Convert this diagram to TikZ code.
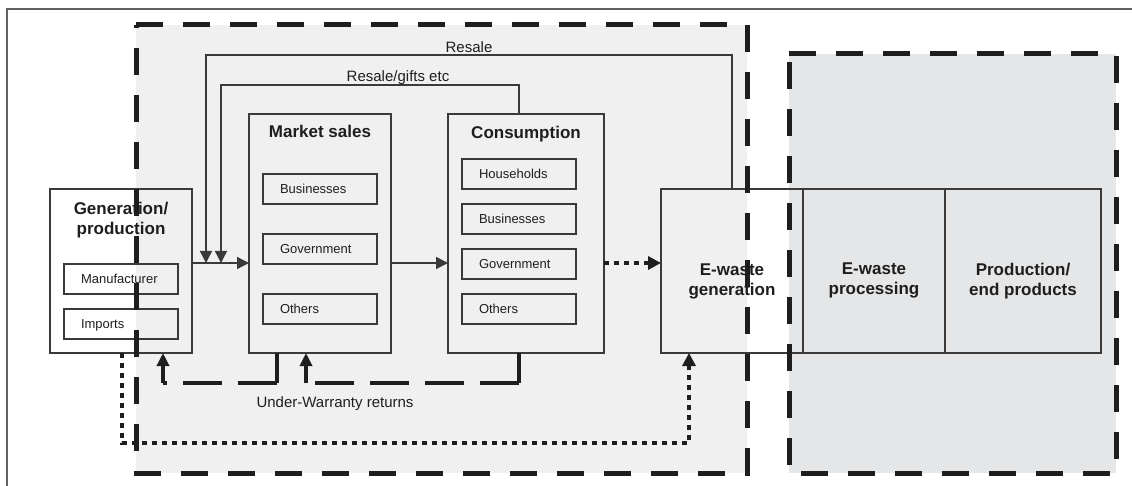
\documentclass[tikz,border=0pt]{standalone}
\usepackage{fontspec}
\setmainfont{Liberation Sans}
\usetikzlibrary{arrows.meta}
\definecolor{lgray}{HTML}{F0F0F0}
\definecolor{rgray}{HTML}{E5E6E7}
\definecolor{ink}{HTML}{1E1E1E}
\definecolor{edge}{HTML}{3A3A3A}
\begin{document}
\begin{tikzpicture}[x=1pt,y=-1pt,
  box/.style={draw=edge, line width=1.4pt, inner sep=0pt, outer sep=0pt, anchor=north west},
  bigbox/.style={box, minimum height=164pt},
  colbox/.style={box, minimum height=239pt},
  sub/.style={box, minimum width=114pt, minimum height=30pt, text width=80pt,
    inner xsep=17pt, inner ysep=0pt, align=left, text height=9.4pt, text depth=0pt,
    font=\fontsize{13}{15}\selectfont, text=ink},
  title/.style={inner sep=0pt, align=center, text=ink,
    font=\fontsize{17}{19.5}\selectfont\bfseries},
  lab/.style={inner sep=0pt, text=ink, font=\fontsize{15}{17}\selectfont},
  flow/.style={draw=edge, line width=1.4pt, -{Triangle[length=12pt,width=12pt]}},
  dotflow/.style={draw=ink, line width=4.5pt, dash pattern=on 5pt off 5pt,
    -{Triangle[length=13pt,width=13pt]}},
  uwline/.style={draw=ink, line width=4pt},
  uwdash/.style={uwline, dash pattern=on 39pt off 16pt},
  uwarrow/.style={uwline, -{Triangle[length=13pt,width=12pt]}},
  region/.style={draw=ink, line width=5pt, dash pattern=on 27pt off 20pt},
]
\useasboundingbox (0,0) rectangle (1132,486);

% region fills
\fill[lgray] (136,25) rectangle (747,473);
\fill[rgray] (789,54) rectangle (1116,473);

% outer frame
\draw[draw=edge!80, line width=1.2pt] (7,486) -- (7,9) -- (1132,9);

% main boxes
\node[bigbox, minimum width=142pt] (gen) at (50,189) {};
\node[colbox, minimum width=142pt] (ms) at (249,114) {};
\node[colbox, minimum width=156pt] (con) at (448,114) {};
\node[bigbox, minimum width=142pt] (ewg) at (661,189) {};
\node[bigbox, minimum width=142pt] (ewp) at (803,189) {};
\node[bigbox, minimum width=156pt] (prod) at (945,189) {};

% titles
\node[title, anchor=north] (gent) at (121,202) {Generation/\\production};
\node[title, anchor=base] (mst) at (320,138) {Market sales};
\node[title, anchor=base] (cont) at (526,139) {Consumption};
\node[title, anchor=north] (ewgt) at (732,264) {E-waste\\generation};
\node[title, anchor=north] (ewpt) at (874,263) {E-waste\\processing};
\node[title, anchor=north] (prodt) at (1023,263) {Production/\\end products};

% sub boxes
\node[sub] (man) at (64,264) {Manufacturer};
\node[sub] (imp) at (64,309) {Imports};
\node[sub] (msb) at (263,174) {Businesses};
\node[sub] (msg) at (263,234) {Government};
\node[sub] (mso) at (263,294) {Others};
\node[sub] (coh) at (462,159) {Households};
\node[sub] (cob) at (462,204) {Businesses};
\node[sub] (cog) at (462,249) {Government};
\node[sub] (coo) at (462,294) {Others};

% helper coordinates
\coordinate (ry) at (0,263);
\coordinate (ra) at (206,55);
\coordinate (rb) at (221,85);
\coordinate (cx) at (519,0);
\coordinate (uw) at (0,383);
\coordinate (x163) at (163,0);
\coordinate (x277) at (277,0);
\coordinate (x306) at (306,0);
\coordinate (dy) at (0,443);
\coordinate (x122) at (122,0);
\coordinate (x689) at (689,0);

% resale loops
\draw[flow] (ewg.north) |- (ra) -- (ra |- ry);
\draw[flow] (cx |- con.north) |- (rb) -- (rb |- ry);
\node[lab, anchor=base] (rsl) at (469,53) {Resale};
\node[lab, anchor=base] (rgl) at (398,81.5) {Resale/gifts etc};

% main flow
\draw[flow] (ry -| gen.east) -- (ry -| ms.west);
\draw[flow] (ry -| ms.east) -- (ry -| con.west);
\draw[dotflow] (ry -| con.east) -- (ry -| ewg.west);

% under-warranty returns
\draw[uwline] (cx |- con.south) -- (cx |- uw);
\draw[uwline] (x277 |- ms.south) -- (x277 |- uw);
\draw[uwdash] (cx |- uw) -- (x306 |- uw);
\draw[uwdash] (x277 |- uw) -- (x163 |- uw);
\draw[uwarrow] (x163 |- uw) -- (x163 |- gen.south);
\draw[uwarrow] (x306 |- uw) -- (x306 |- ms.south);
\node[lab, anchor=base] (uwl) at (335,407) {Under-Warranty returns};

% dotted direct path
\draw[dotflow] (x122 |- gen.south) -- (x122 |- dy) -- (x689 |- dy) -- (x689 |- ewg.south);

% region borders on top
\draw[region] (136,25) -- (747,25) -- (747,473) -- (136,473) -- cycle;
\draw[region] (789,54) -- (1116,54) -- (1116,473) -- (789,473) -- cycle;
\end{tikzpicture}
\end{document}
